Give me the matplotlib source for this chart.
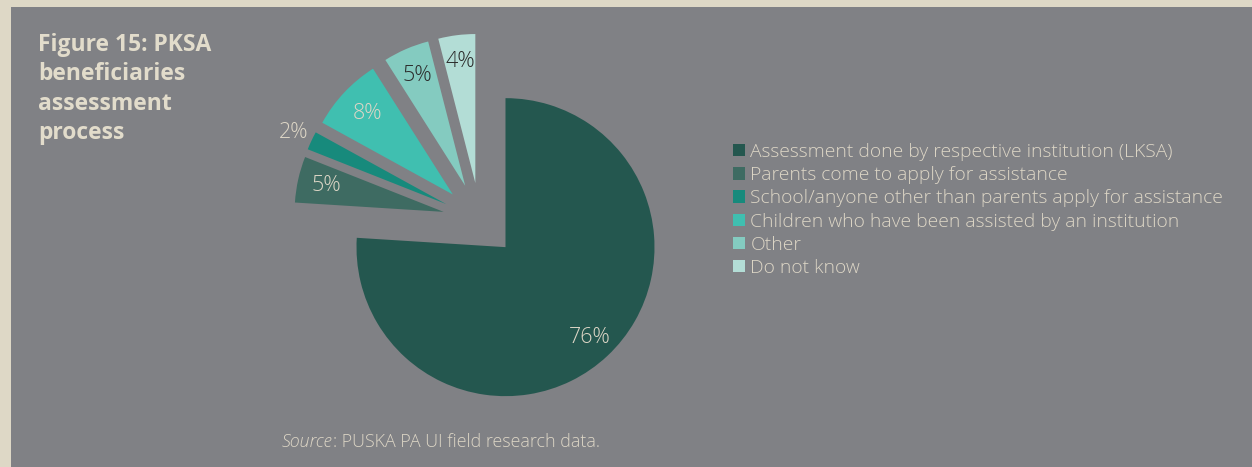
import numpy as np
import matplotlib.pyplot as plt
from matplotlib.patches import Rectangle

categories = [
    "Assessment done by respective institution (LKSA)",
    "Parents come to apply for assistance",
    "School/anyone other than parents apply for assistance",
    "Children who have been assisted by an institution",
    "Other",
    "Do not know",
]
shares = [76, 5, 2, 8, 5, 4]
colors = ["#24574f", "#3e6b62", "#178a7c", "#40bfb0", "#84cbc0", "#b3ddd6"]
label_colors = ["#ddd6c6", "#ddd6c6", "#ddd6c6", "#ddd6c6", "#2b2b2b", "#2b2b2b"]
label_dist = [0.83, 0.81, 1.13, 0.79, 0.81, 0.82]

BG = "#808185"
FRAME = "#ded8c6"
TXT = "#ddd6c6"
FONT = "Open Sans"

W, H = 1252, 467
fig = plt.figure(figsize=(W / 100, H / 100), dpi=100)
fig.patch.set_facecolor(FRAME)
fig.patches.append(Rectangle((11 / W, 0), 1, (H - 7) / H, transform=fig.transFigure,
                             facecolor=BG, edgecolor="none", zorder=-5))

# one data unit = pie radius (149 px), pie centre at (480, 220) px
R = 149.0
cx, cy = 480.0, 220.0
ax = fig.add_axes([0, 0, 1, 1])
ax.set_facecolor("none")
wedges, _ = ax.pie(shares, colors=colors, startangle=90, counterclock=False,
                   explode=[0.25] * len(shares), radius=1,
                   wedgeprops=dict(linewidth=0))
ax.set_aspect("auto")
ax.set_xlim(-cx / R, (W - cx) / R)
ax.set_ylim(-(H - cy) / R, cy / R)
ax.axis("off")

for w, v, c, d in zip(wedges, shares, label_colors, label_dist):
    ang = np.deg2rad((w.theta1 + w.theta2) / 2)
    x0, y0 = w.center
    ax.text(x0 + d * np.cos(ang), y0 + d * np.sin(ang), f"{v}%",
            ha="center", va="center", color=c, fontsize=15.5,
            family=FONT, fontweight="light")

leg = fig.legend(wedges, categories, loc="upper left",
                 bbox_to_anchor=(733 / W, 1 - 143 / H), frameon=False,
                 handlelength=0.6, handleheight=0.6, handletextpad=0.3,
                 labelspacing=0.27, borderpad=0, borderaxespad=0,
                 prop=dict(family=FONT, size=13.9, weight="light"))
for t in leg.get_texts():
    t.set_color(TXT)

fig.text(38 / W, 1 - 33 / H, "Figure 15: PKSA\nbeneficiaries\nassessment\nprocess",
         ha="left", va="top", color="#e2dccb", fontsize=16.5,
         family=FONT, fontweight="bold", linespacing=1.3)

src = fig.text(282 / W, 1 - 447 / H, "Source", ha="left", va="baseline",
               color=TXT, fontsize=12.9, family=FONT, fontweight="light", style="italic")
fig.canvas.draw()
bb = src.get_window_extent()
fig.text(bb.x1 / W, 1 - 447 / H, ": PUSKA PA UI field research data.",
         ha="left", va="baseline", color=TXT, fontsize=12.9, family=FONT,
         fontweight="light")

fig.savefig("out.png", dpi=100, facecolor=fig.get_facecolor())
